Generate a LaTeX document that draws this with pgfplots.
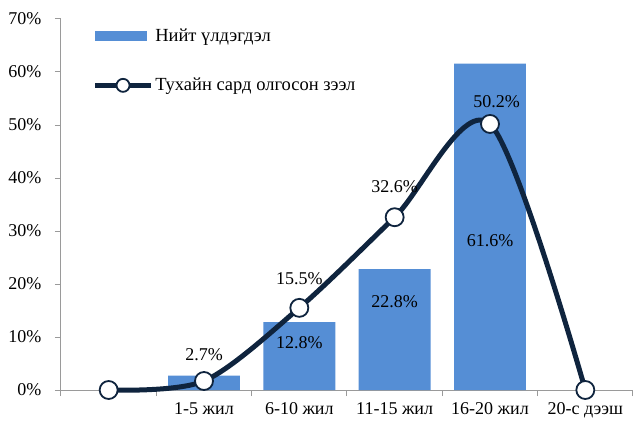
\documentclass[border=0pt]{standalone}
\usepackage{fontspec}
\setmainfont{Liberation Serif}
\usepackage{pgfplots}
\pgfplotsset{compat=1.18}
\definecolor{barblue}{HTML}{558ED5}
\definecolor{navy}{HTML}{0F243E}
\definecolor{axgray}{HTML}{9A9A9A}
\begin{document}
\begin{tikzpicture}[font=\fontsize{18bp}{21bp}\selectfont]
\useasboundingbox (-61bp,-31bp) rectangle (580bp,390bp);
\begin{axis}[
  scale only axis, width=572bp, height=371bp,
  xmin=-0.5, xmax=5.5, ymin=0, ymax=70,
  clip=false,
  axis lines=left,
  axis line style={draw=axgray, line width=1bp, -},
  tick style={draw=axgray, line width=1bp},
  tick align=outside, major tick length=6bp,
  ytick={0,10,...,70},
  yticklabels={0\%,10\%,20\%,30\%,40\%,50\%,60\%,70\%},
  yticklabel style={xshift=-10bp},
  xtick={-0.5,0.5,...,5.5},
  xticklabels={},
  extra x ticks={0,1,2,3,4,5},
  extra x tick labels={,1-5 жил,6-10 жил,11-15 жил,16-20 жил,20-с дээш},
  extra x tick style={major tick length=0pt, xticklabel style={yshift=-9bp}},
  legend style={draw=none, fill=none, at={(rel axis cs:0.050,0.984)}, anchor=north west,
    row sep=31bp, font=\fontsize{18.5bp}{21bp}\selectfont,
    nodes={inner xsep=2bp}},
  legend cell align=left,
]
\addplot[ybar, bar width=0.755, fill=barblue, draw=none,
  legend image code/.code={\fill[barblue] (0bp,-5bp) rectangle (52bp,5bp);}]
  coordinates {(1,2.7) (2,12.8) (3,22.8) (4,61.6)};
\addlegendentry{Нийт үлдэгдэл}
\addplot[navy, line width=5bp, smooth, tension=0.5, mark=*, mark size=9bp,
  mark options={fill=white, draw=navy, line width=1.8bp},
  legend image code/.code={\draw[navy, line width=4.5bp] (0bp,0bp) -- (56bp,0bp);
    \draw[navy, line width=1.8bp, fill=white] (28bp,0bp) circle (6.5bp);}]
  coordinates {(0,0) (1,1.7) (2,15.5) (3,32.6) (4,50.2) (5,0)};
\addlegendentry{Тухайн сард олгосон зээл}
\addplot[forget plot, draw=none, mark=none, nodes near coords, point meta=explicit symbolic,
  nodes near coords style={anchor=center, text=black, font=\fontsize{18bp}{21bp}\selectfont}]
  coordinates {(1,6.6) [2.7\%] (2,8.9) [12.8\%] (2,21.1) [15.5\%] (3,16.6) [22.8\%]
    (3,38.3) [32.6\%] (4.07,54.5) [50.2\%] (4,28.1) [61.6\%]};
\end{axis}
\end{tikzpicture}
\end{document}
